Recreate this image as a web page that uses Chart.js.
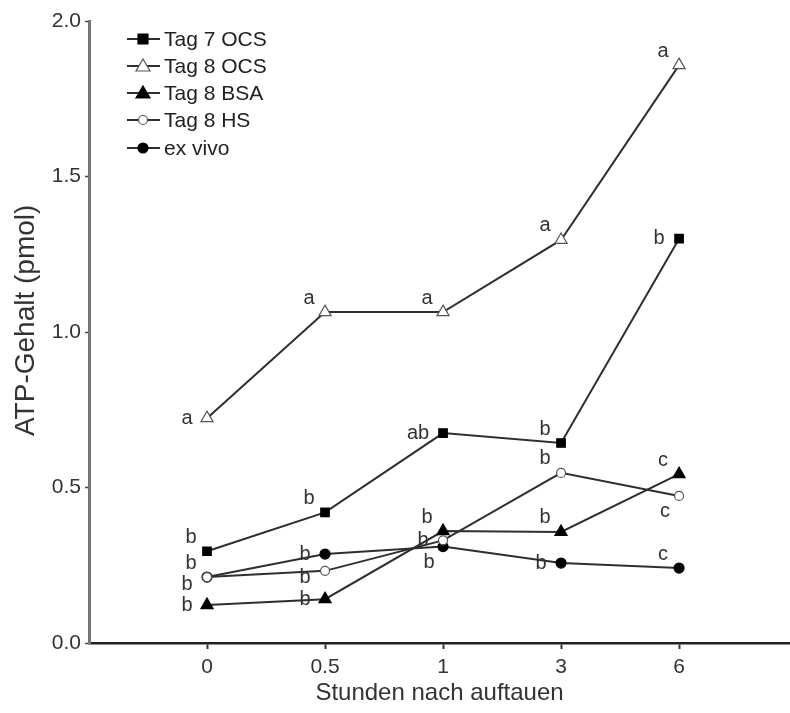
<!DOCTYPE html>
<html><head><meta charset="utf-8">
<script src="https://cdn.jsdelivr.net/npm/chart.js@4.4.1/dist/chart.umd.min.js"></script>
<style>html,body{margin:0;padding:0;background:#fff;overflow:hidden}#wrap{width:790px;height:713px;position:relative}canvas{display:block}</style>
</head><body><div id="wrap"><canvas id="c"></canvas></div>
<script>
const categories = ['0', '0.5', '1', '3', '6'];
const seriesNames = ['Tag 7 OCS', 'Tag 8 OCS', 'Tag 8 BSA', 'Tag 8 HS', 'ex vivo'];
const tag7OCS = [0.295, 0.42, 0.675, 0.643, 1.30];
const tag8OCS = [0.723, 1.064, 1.064, 1.296, 1.858];
const tag8BSA = [0.122, 0.141, 0.36, 0.357, 0.543];
const tag8HS  = [0.212, 0.232, 0.33, 0.547, 0.473];
const exVivo  = [0.212, 0.286, 0.31, 0.257, 0.241];
const yTicks = [0, 0.5, 1.0, 1.5, 2.0];
// significance letters and which side of the point they sit on
// (l = left, a = above-left, b = below-left, d = left and a little lower)
const tag7Letters = ['b', 'b', 'ab', 'b', 'b'];
const tag7Side    = ['a', 'a', 'l', 'a', 'l'];
const tag8OCSLetters = ['a', 'a', 'a', 'a', 'a'];
const tag8OCSSide    = ['l', 'a', 'a', 'a', 'a'];
const tag8BSALetters = ['b', 'b', 'b', 'b', 'c'];
const tag8BSASide    = ['l', 'l', 'a', 'a', 'a'];
const tag8HSLetters = ['b', 'b', 'b', 'b', 'c'];
const tag8HSSide    = ['d', 'd', 'l', 'a', 'b'];
const exVivoLetters = ['b', 'b', 'b', 'b', 'c'];
const exVivoSide    = ['a', 'l', 'b', 'l', 'a'];

const FONT = '"Liberation Sans", Arial, sans-serif';
const LINE = '#2e2e2e';

function pts(arr){ return arr.map((v,i)=>({x:i, y:v})); }

const styles = [
  {pointStyle:'rect', radius:6, bg:'#000', border:'#000'},
  {pointStyle:'triangle', radius:7, bg:'#fff', border:'#555'},
  {pointStyle:'triangle', radius:7, bg:'#000', border:'#000'},
  {pointStyle:'circle', radius:4.5, bg:'#fff', border:'#555'},
  {pointStyle:'circle', radius:5, bg:'#000', border:'#000'}
];
const values = [tag7OCS, tag8OCS, tag8BSA, tag8HS, exVivo];
const letters = [tag7Letters, tag8OCSLetters, tag8BSALetters, tag8HSLetters, exVivoLetters];
const sides = [tag7Side, tag8OCSSide, tag8BSASide, tag8HSSide, exVivoSide];

// Chart.js paints the first dataset last (on top): Tag 8 OCS, HS over ex vivo
const order = [1, 3, 0, 2, 4];
const datasets = order.map(k => ({
  label: seriesNames[k],
  data: pts(values[k]),
  borderColor: LINE,
  borderWidth: 2,
  pointStyle: styles[k].pointStyle,
  pointRadius: styles[k].radius,
  pointBackgroundColor: styles[k].bg,
  pointBorderColor: styles[k].border,
  pointBorderWidth: 1.2,
  tension: 0,
  _letters: letters[k],
  _sides: sides[k]
}));

const letterPlugin = {
  id: 'letters',
  afterDatasetsDraw(chart){
    const ctx = chart.ctx;
    ctx.save();
    ctx.font = '20px ' + FONT;
    ctx.fillStyle = '#333';
    ctx.textAlign = 'center';
    ctx.textBaseline = 'middle';
    chart.data.datasets.forEach((ds, di) => {
      const meta = chart.getDatasetMeta(di);
      meta.data.forEach((el, i) => {
        const t = ds._letters[i]; const s = ds._sides[i];
        let dx = -20, dy = 0;
        if (s === 'a') { dx = -16; dy = -14; }
        if (s === 'b') { dx = -14; dy = 16; }
        if (s === 'd') { dx = -20; dy = 7; }
        if (t.length > 1 && s === 'l') dx -= 5;
        ctx.fillText(t, el.x + dx, el.y + dy);
      });
    });
    ctx.restore();
  }
};

const legendPlugin = {
  id: 'lineLegend',
  afterDraw(chart){
    const ctx = chart.ctx;
    const rows = [39, 66, 93, 120, 148];
    ctx.save();
    for (let k = 0; k < 5; k++) {
      const y = rows[k];
      ctx.strokeStyle = LINE; ctx.lineWidth = 2;
      ctx.beginPath(); ctx.moveTo(127, y); ctx.lineTo(160, y); ctx.stroke();
      const st = styles[k];
      ctx.fillStyle = st.bg; ctx.strokeStyle = st.border; ctx.lineWidth = 1.2;
      ctx.beginPath();
      if (st.pointStyle === 'rect') { ctx.rect(143-5, y-5, 10, 10); }
      else if (st.pointStyle === 'triangle') { ctx.moveTo(143, y-7); ctx.lineTo(150, y+5); ctx.lineTo(136, y+5); ctx.closePath(); }
      else { ctx.arc(143, y, st.radius, 0, Math.PI*2); }
      ctx.fill(); ctx.stroke();
      ctx.fillStyle = '#222';
      ctx.font = '21px ' + FONT;
      ctx.textAlign = 'left'; ctx.textBaseline = 'middle';
      ctx.fillText(seriesNames[k], 164, y + 1);
    }
    ctx.restore();
  }
};

new Chart(document.getElementById('c'), {
  type: 'line',
  data: { datasets },
  options: {
    responsive: true,
    maintainAspectRatio: false,
    animation: false,
    layout: { autoPadding: false, padding: { top: 21, right: 0, left: 0, bottom: 0 } },
    plugins: { legend: { display: false }, tooltip: { enabled: false } },
    scales: {
      x: {
        type: 'linear', min: -1, max: 4.94,
        afterBuildTicks(scale){ scale.ticks = categories.map((c,i)=>({value:i})); },
        afterFit(scale){ scale.height = 70; },
        ticks: { callback: (v) => categories[v], color: '#333', font: { size: 21, family: FONT }, padding: 6, maxRotation: 0, autoSkip: false },
        grid: { display: true, drawOnChartArea: false, drawTicks: true, tickLength: 6, color: '#333', tickWidth: 2 },
        border: { display: true, color: '#222', width: 2.5 },
        title: { display: true, text: 'Stunden nach auftauen', color: '#333', font: { size: 24, family: FONT }, padding: { top: 0, bottom: 5 } }
      },
      y: {
        type: 'linear', min: 0, max: 2.0,
        afterBuildTicks(scale){ scale.ticks = yTicks.map(v=>({value:v})); },
        afterFit(scale){ scale.width = 89; },
        ticks: { callback: (v) => v.toFixed(1), color: '#333', font: { size: 21, family: FONT }, padding: 4 },
        grid: { display: true, drawOnChartArea: false, drawTicks: true, tickLength: 4, color: '#444', tickWidth: 1.5 },
        border: { display: true, color: '#777', width: 3 },
        title: { display: true, text: '   ATP-Gehalt (pmol)', color: '#333', font: { size: 28, family: FONT }, padding: { top: 9, bottom: 0 } }
      }
    }
  },
  plugins: [letterPlugin, legendPlugin]
});
</script>
</body></html>
